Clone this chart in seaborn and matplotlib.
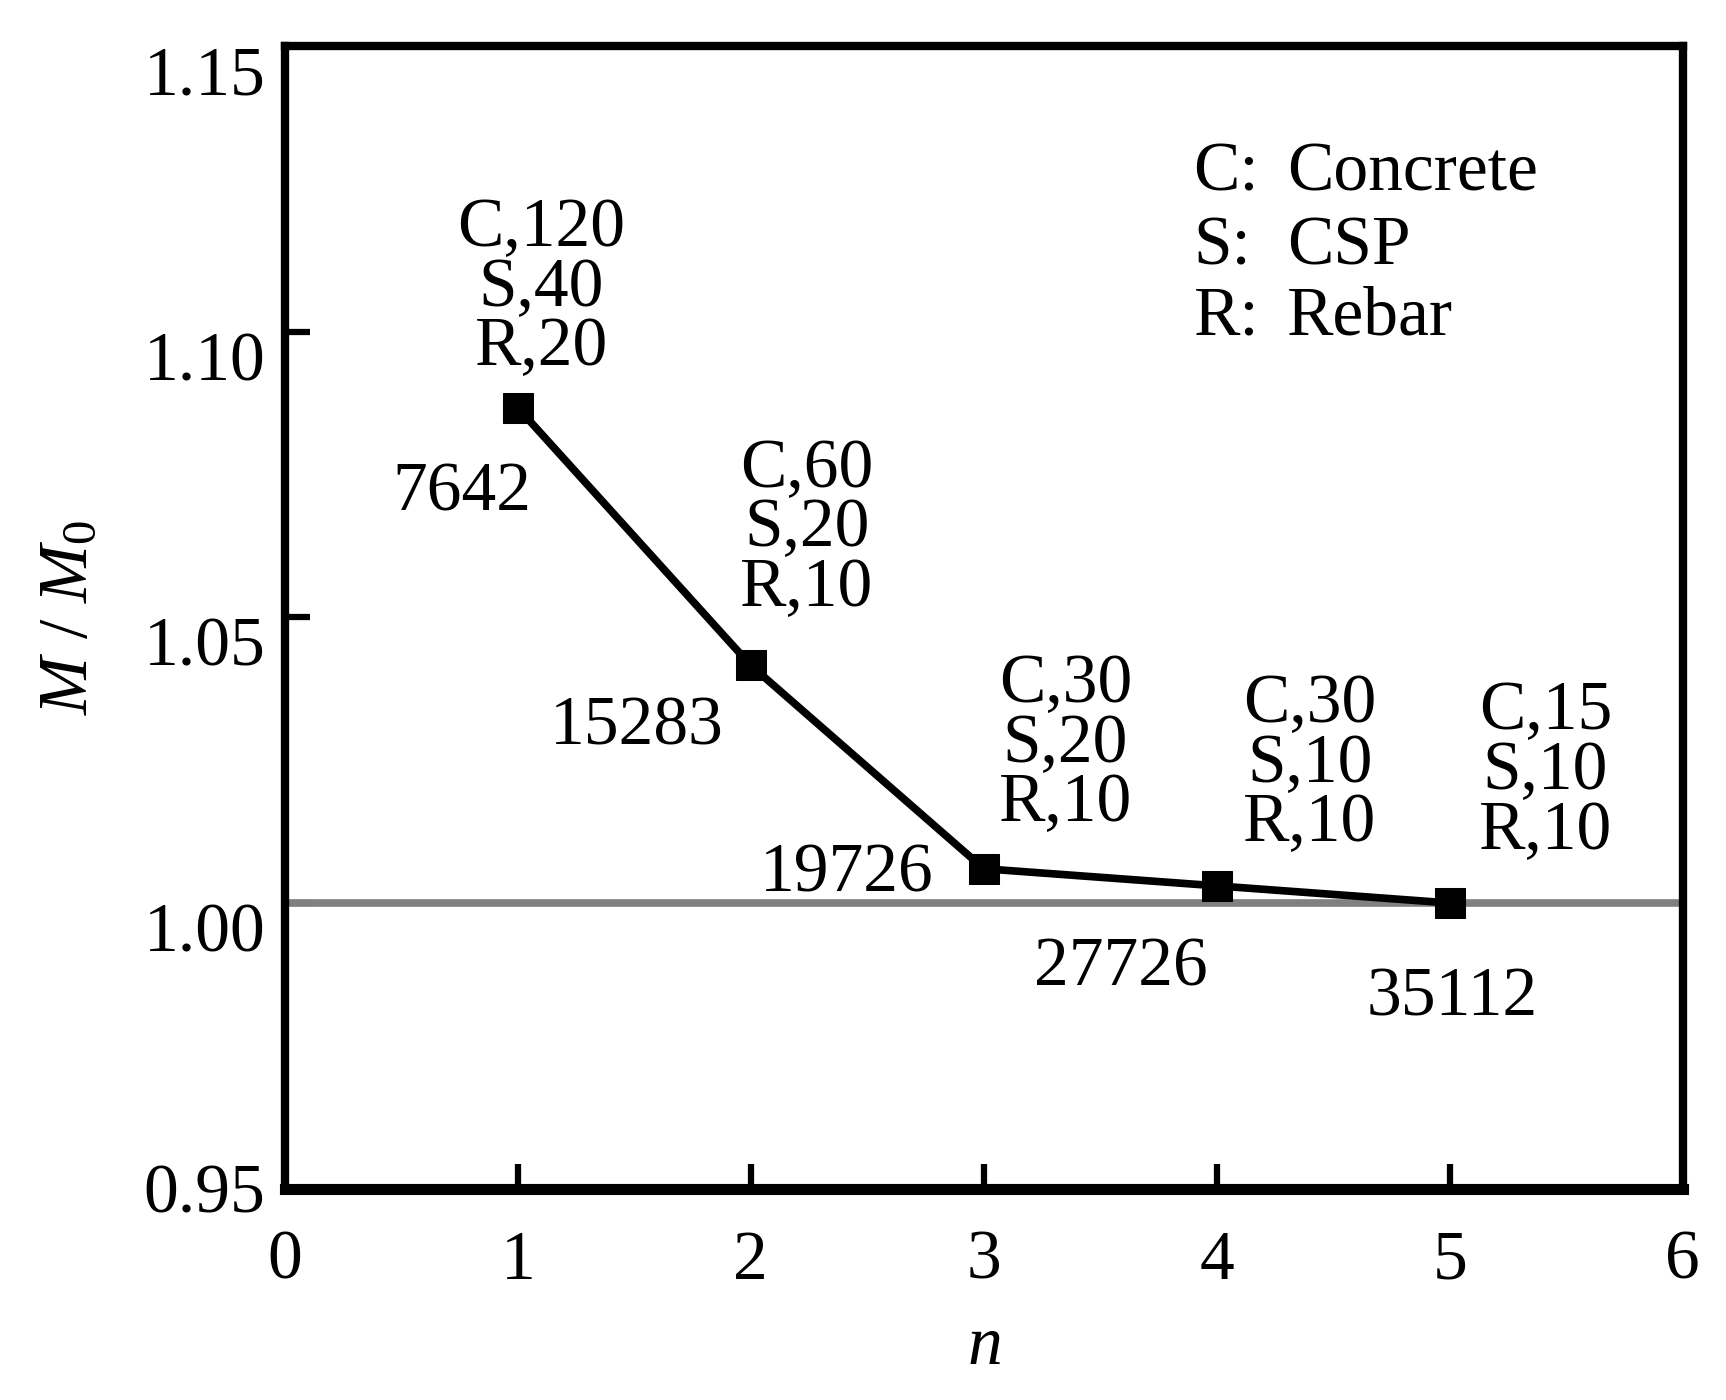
import numpy as np
import pandas as pd
import matplotlib
matplotlib.use("Agg")
import matplotlib.pyplot as plt
import seaborn as sns

# data
n_vals = [1, 2, 3, 4, 5]
ratio = [1.0867, 1.0416, 1.0060, 1.0030, 1.0000]
mix_labels = ["C,120\nS,40\nR,20", "C,60\nS,20\nR,10", "C,30\nS,20\nR,10",
              "C,30\nS,10\nR,10", "C,15\nS,10\nR,10"]
count_labels = ["7642", "15283", "19726", "27726", "35112"]
key_letters = ["C", "S", "R"]
key_words = ["Concrete", "CSP", "Rebar"]
x_ticks = [0, 1, 2, 3, 4, 5, 6]
y_ticks = [0.95, 1.00, 1.05, 1.10, 1.15]

sns.set_theme(style="white")
plt.rcParams["font.family"] = ["Liberation Serif", "DejaVu Serif"]
plt.rcParams["mathtext.fontset"] = "custom"
plt.rcParams["mathtext.rm"] = "Liberation Serif"
plt.rcParams["mathtext.it"] = "Liberation Serif:italic"
plt.rcParams["text.color"] = "black"
plt.rcParams["axes.labelcolor"] = "black"

fs = 50
df = pd.DataFrame({"n": n_vals, "ratio": ratio})

fig = plt.figure(figsize=(17.26, 14), dpi=100)
ax = fig.add_axes([0.165, 0.151, 0.81, 0.816])

ax.axhline(1.0, color="#808080", lw=5.5, zorder=1)
sns.lineplot(data=df, x="n", y="ratio", ax=ax, color="black", lw=5.5,
             marker="s", markersize=22, markeredgecolor="black",
             markerfacecolor="black", zorder=3)

# annotation positions (data coords) for the mix blocks and counts
mix_pos = [(1.10, 1.1075), (2.24, 1.0654), (3.35, 1.0277), (4.40, 1.0242), (5.41, 1.0229)]
cnt_pos = [(0.76, 1.0717), (1.51, 1.0306), (2.41, 1.0049), (3.59, 0.9885), (5.01, 0.9832)]
for txt, (x, y) in zip(mix_labels, mix_pos):
    ax.text(x, y, txt, ha="center", va="center", fontsize=fs, linespacing=0.92)
for txt, (x, y) in zip(count_labels, cnt_pos):
    ax.text(x, y, txt, ha="center", va="center", fontsize=fs)

key_y = [1.1276, 1.1147, 1.1025]
for letter, word, y in zip(key_letters, key_words, key_y):
    ax.text(3.90, y, letter + ":", ha="left", va="center", fontsize=fs)
    ax.text(4.30, y, word, ha="left", va="center", fontsize=fs)

ax.set_xlim(0, 6)
ax.set_ylim(0.95, 1.15)
ax.set_xticks(x_ticks)
ax.set_yticks(y_ticks)
ax.set_yticklabels([f"{v:.2f}" for v in y_ticks])
ax.tick_params(axis="both", direction="in", length=18, width=4.5,
               labelsize=fs, colors="black", left=True, bottom=True,
               right=False, top=False)
ax.tick_params(axis="x", pad=30)
ax.tick_params(axis="y", pad=14)

for lab, v in zip(ax.get_yticklabels(), y_ticks):
    if v > 0.96:
        lab.set_va("top")

for side in ["left", "right", "top"]:
    ax.spines[side].set_linewidth(6)
    ax.spines[side].set_color("black")
ax.spines["bottom"].set_linewidth(8)
ax.spines["bottom"].set_color("black")

ax.set_xlabel("$n$", fontsize=fs, labelpad=16)
ax.set_ylabel("$M$ / $M_0$", fontsize=fs, labelpad=30)

fig.savefig("out.png", dpi=100)
